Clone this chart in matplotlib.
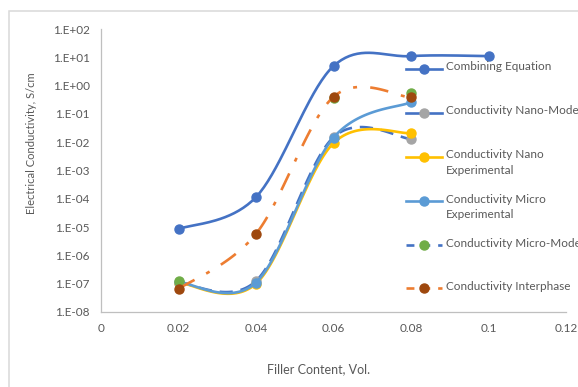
import numpy as np
import matplotlib.pyplot as plt
from matplotlib.lines import Line2D
from matplotlib.ticker import FuncFormatter, FixedLocator

plt.rcParams['font.family'] = ['Lato', 'DejaVu Sans']

# data
filler = [0.02, 0.04, 0.06, 0.08, 0.1]
combining = [8.5e-6, 1.15e-4, 4.9, 11.0, 11.0]
nano_model = [1.1e-7, 1.25e-7, 0.015, 0.013]
nano_exp = [1.1e-7, 1.0e-7, 0.0093, 0.021]
micro_exp = [1.15e-7, 1.1e-7, 0.0145, 0.26]
micro_model_x = [0.02, 0.06, 0.08]
micro_model = [1.25e-7, 0.37, 0.55]
interphase = [6.5e-8, 5.8e-6, 0.40, 0.38]

labels = ['Combining Equation', 'Conductivity Nano-Model', 'Conductivity Nano\nExperimental',
          'Conductivity Micro\nExperimental', 'Conductivity Micro-Model', 'Conductivity Interphase']

BLUE = '#4472C4'
GREY = '#A5A5A5'
GOLD = '#FFC000'
LBLUE = '#5B9BD5'
GREEN = '#70AD47'
ORANGE = '#ED7D31'
BROWN = '#9E480E'
TXT = '#595959'


def smooth(x, y, n=40):
    # excel-like smoothed line (bezier, catmull-rom control points) in x / log y space
    pts = np.column_stack([np.asarray(x, float), np.log10(y)])
    m = len(pts)
    xs, ys = [], []
    t = np.linspace(0, 1, n)[:, None]
    for i in range(m - 1):
        p0 = pts[max(i - 1, 0)]
        p1 = pts[i]
        p2 = pts[i + 1]
        p3 = pts[min(i + 2, m - 1)]
        c1 = p1 + (p2 - p0) / 6
        c2 = p2 - (p3 - p1) / 6
        b = (1 - t) ** 3 * p1 + 3 * (1 - t) ** 2 * t * c1 + 3 * (1 - t) * t ** 2 * c2 + t ** 3 * p2
        xs.append(b[:, 0])
        ys.append(b[:, 1])
    return np.concatenate(xs), 10 ** np.concatenate(ys)


fig = plt.figure(figsize=(5.78, 3.87), dpi=100)
ax = fig.add_axes([101 / 578, 1 - 312 / 387, 465 / 578, 283 / 387])

ms = 6.5
lw = 1.9

sx, sy = smooth(filler, combining)
ax.plot(sx, sy, color=BLUE, lw=lw)
ax.plot(filler, combining, 'o', color=BLUE, ms=ms)

sx, sy = smooth(filler[:4], nano_model)
ax.plot(sx, sy, color=BLUE, lw=lw, ls=(0, (5, 3)))
ax.plot(filler[:4], nano_model, 'o', color=GREY, ms=ms)

sx, sy = smooth(filler[:4], nano_exp)
ax.plot(sx, sy, color=GOLD, lw=lw)
ax.plot(filler[:4], nano_exp, 'o', color=GOLD, ms=ms)

sx, sy = smooth(filler[:4], micro_exp)
ax.plot(sx, sy, color=LBLUE, lw=lw)
ax.plot(filler[:4], micro_exp, 'o', color=LBLUE, ms=ms)

ax.plot(micro_model_x, micro_model, 'o', color=GREEN, ms=ms)

sx, sy = smooth(filler[:4], interphase)
ax.plot(sx, sy, color=ORANGE, lw=lw, ls=(0, (7, 5, 1.5, 5)))
ax.plot(filler[:4], interphase, 'o', color=BROWN, ms=ms)

ax.set_yscale('log')
ax.set_ylim(1e-8, 1e2)
ax.set_xlim(0, 0.12)
ax.yaxis.set_major_locator(FixedLocator([10.0 ** e for e in range(-8, 3)]))
ax.yaxis.set_minor_locator(FixedLocator([]))
ax.yaxis.set_major_formatter(FuncFormatter(lambda v, p: '1.E%+03d' % round(np.log10(v))))
ax.set_xticks([0, 0.02, 0.04, 0.06, 0.08, 0.1, 0.12])
ax.xaxis.set_major_formatter(FuncFormatter(lambda v, p: '%g' % round(v, 2)))
ax.tick_params(length=0, labelsize=8.5, labelcolor=TXT, pad=8)
for s in ['top', 'right']:
    ax.spines[s].set_visible(False)
for s in ['left', 'bottom']:
    ax.spines[s].set_color('#BFBFBF')
    ax.spines[s].set_linewidth(0.9)
ax.patch.set_alpha(0)

fig.text(319 / 578, 1 - 369 / 387, 'Filler Content, Vol.', ha='center', va='center',
         fontsize=9, color=TXT)
fig.text(32 / 578, 1 - 143 / 387, 'Electrical Conductivity, S/cm', ha='center', va='center',
         rotation=90, fontsize=8, color=TXT)

# legend drawn over the plot, like the original
handles = [
    (BLUE, '-', BLUE),
    (BLUE, '-', GREY),
    (GOLD, '-', GOLD),
    (LBLUE, '-', LBLUE),
    (BLUE, (0, (3, 3)), GREEN),
    (ORANGE, (0, (3, 3)), BROWN),
]
row_y = [69, 113, 157, 201, 245, 288]
for (lc, ls, mc), lab, yy in zip(handles, labels, row_y):
    y = 1 - yy / 387
    fig.add_artist(Line2D([406 / 578, 442 / 578], [y, y], color=lc, lw=lw, ls=ls,
                          transform=fig.transFigure))
    fig.add_artist(Line2D([424 / 578], [y], marker='o', color=mc, ms=ms, ls='none',
                          transform=fig.transFigure))
    fig.text(446 / 578, y + 7.5 / 387, lab, ha='left', va='top', fontsize=8.5, color=TXT,
             linespacing=1.55)

# chart border (only left and top edges fall inside the crop)
fig.add_artist(plt.Rectangle((9 / 578, -0.1), 1.2, 1.1 - 11 / 387, fill=False,
                             edgecolor='#D9D9D9', lw=1.1, transform=fig.transFigure))

fig.savefig('out.png', dpi=100)
